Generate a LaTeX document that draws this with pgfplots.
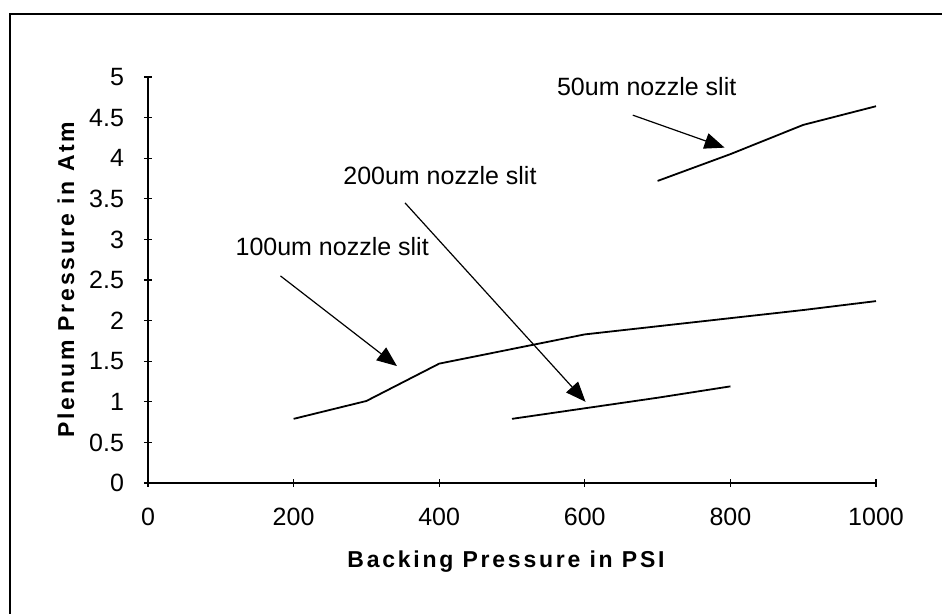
\documentclass[border=0pt]{standalone}
\usepackage{fontspec}
\setmainfont{Liberation Sans}
\newfontfamily\spaced[LetterSpace=12]{Liberation Sans}
\usepackage{pgfplots}
\pgfplotsset{compat=1.18}
\usetikzlibrary{arrows.meta}
\begin{document}
\begin{tikzpicture}
\begin{axis}[
  at={(0,0)}, anchor=south west,
  scale only axis, width=364pt, height=203pt,
  xmin=0, xmax=1000, ymin=0, ymax=5,
  axis x line=bottom, axis y line=left,
  axis line style={-, line width=0.75pt},
  xtick={0,200,400,600,800,1000},
  xticklabels={0,200,400,600,800,1000},
  ytick={0,0.5,1,1.5,2,2.5,3,3.5,4,4.5,5},
  yticklabels={0,0.5,1,1.5,2,2.5,3,3.5,4,4.5,5},
  tick align=center, major tick length=4pt,
  tick style={line width=0.6pt, black},
  /pgf/number format/assume math mode=true,
  ticklabel style={font=\fontsize{12.5}{14}\selectfont},
  xticklabel style={yshift=-7pt},
  yticklabel style={xshift=-6.5pt},
  clip=false,
]
\addplot[black, line width=0.9pt] coordinates {
  (700,3.72) (800,4.05) (900,4.41) (1000,4.64)
};
\addplot[black, line width=0.9pt] coordinates {
  (200,0.79) (300,1.01) (400,1.47) (500,1.65) (600,1.83) (700,1.93) (800,2.03) (900,2.13) (1000,2.24)
};
\addplot[black, line width=0.9pt] coordinates {
  (500,0.79) (600,0.92) (700,1.05) (800,1.19)
};
\draw[line width=0.6pt, -{Triangle[length=10pt, width=8pt]}] (axis cs:666,4.53) -- (axis cs:792,4.13);
\draw[line width=0.6pt, -{Triangle[length=10pt, width=8pt]}] (axis cs:353,3.45) -- (axis cs:601,1.0);
\draw[line width=0.6pt, -{Triangle[length=10pt, width=8pt]}] (axis cs:182,2.55) -- (axis cs:342,1.44);
\node[font=\fontsize{12.5}{14}\selectfont] at (axis cs:685,4.88) {50um nozzle slit};
\node[font=\fontsize{12.5}{14}\selectfont] at (axis cs:401,3.79) {200um nozzle slit};
\node[font=\fontsize{12.5}{14}\selectfont] at (axis cs:253,2.91) {100um nozzle slit};
\end{axis}
\node[font=\spaced\bfseries\fontsize{11.5}{13}\selectfont] at (179pt,-39.5pt) {Backing Pressure in PSI};
\node[font=\spaced\bfseries\fontsize{11.5}{13}\selectfont, rotate=90] at (-41pt,101.75pt) {Plenum Pressure in Atm};
\draw[line width=0.75pt] (-69pt,-65.5pt) -- (-69pt,234.5pt) -- (397pt,234.5pt);
\pgfresetboundingbox
\path (-74pt,-65.5pt) rectangle (397pt,241.5pt);
\end{tikzpicture}
\end{document}
